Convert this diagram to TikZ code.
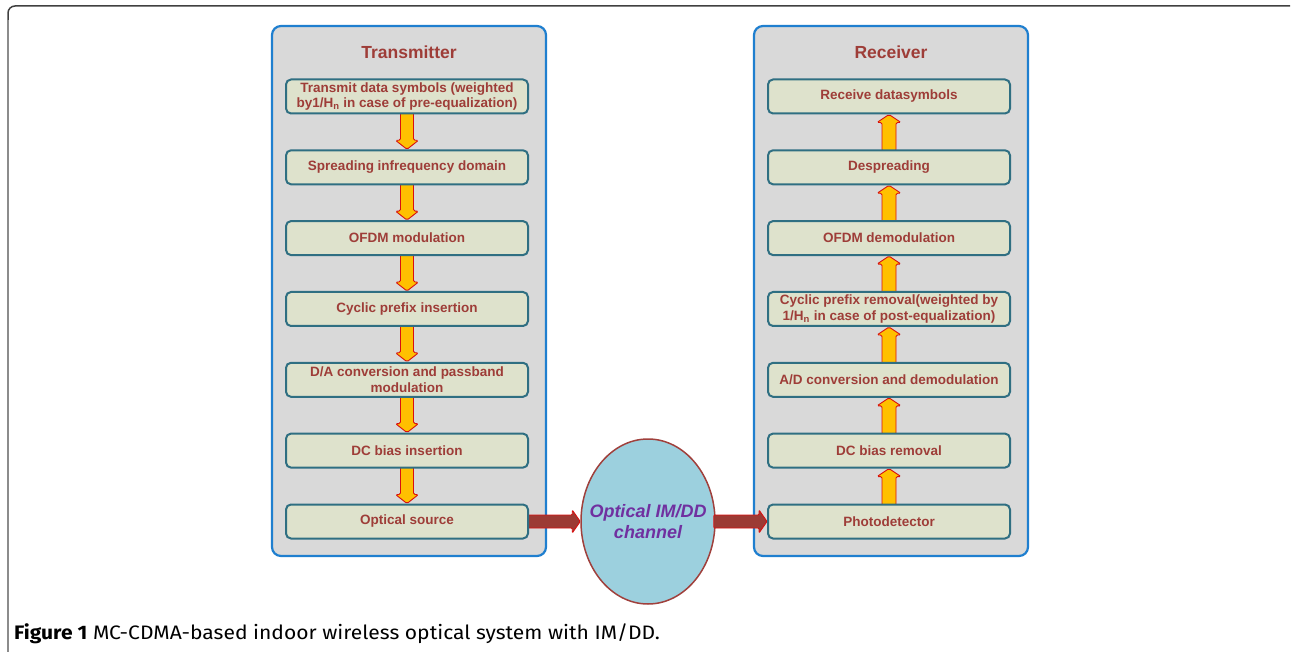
\documentclass[tikz,border=0pt]{standalone}
\usepackage{fontspec}
\setmainfont{Liberation Sans}
\newfontfamily\capfont{Fira Sans}
\usetikzlibrary{calc,shapes.geometric}
\definecolor{panelblue}{HTML}{1F7FCF}
\definecolor{panelgray}{HTML}{D9D9D9}
\definecolor{boxfill}{HTML}{DEE2CC}
\definecolor{boxedge}{HTML}{2F6F82}
\definecolor{txtred}{HTML}{9E3D38}
\definecolor{yel}{HTML}{FFC000}
\definecolor{arrred}{HTML}{D81010}
\definecolor{chanfill}{HTML}{9CD0DE}
\definecolor{chanedge}{HTML}{A0403C}
\definecolor{chantext}{HTML}{7030A0}
\definecolor{brownarr}{HTML}{9C3A34}
\pgfdeclarelayer{bg}
\pgfdeclarelayer{arrows}
\pgfsetlayers{bg,arrows,main}
\newcommand\fatdown[2]{%
  \draw[yarr] ($(#1.south)+(-6.5,-2)$) -- ($(#2.north)+(-6.5,-9)$) -- ($(#2.north)+(-11.5,-9)$) -- (#2.north) -- ($(#2.north)+(11.5,-9)$) -- ($(#2.north)+(6.5,-9)$) -- ($(#1.south)+(6.5,-2)$) -- cycle;}
\newcommand\fatup[2]{%
  \draw[yarr] ($(#1.north)+(-7,2)$) -- ($(#2.south)+(-7,8)$) -- ($(#2.south)+(-12,8)$) -- (#2.south) -- ($(#2.south)+(12,8)$) -- ($(#2.south)+(7,8)$) -- ($(#1.north)+(7,2)$) -- cycle;}
\newcommand\fatright[2]{%
  \draw[barr] ($(#1.east)+(-2,-6.5)$) -- ($(#2.west)+(-8,-6.5)$) -- ($(#2.west)+(-8,-11.5)$) -- (#2.west) -- ($(#2.west)+(-8,11.5)$) -- ($(#2.west)+(-8,6.5)$) -- ($(#1.east)+(-2,6.5)$) -- cycle;}
\begin{document}
\begin{tikzpicture}[x=1pt,y=-1pt,
  panel/.style={draw=panelblue, line width=2.2pt, fill=panelgray, rounded corners=9pt, minimum width=274pt, minimum height=530pt, inner sep=0pt},
  stepbox/.style={draw=boxedge, line width=2pt, fill=boxfill, rounded corners=5pt, minimum width=242pt, minimum height=34pt, inner sep=0pt, text=txtred, font=\fontsize{13.5}{15.5}\selectfont\bfseries, align=center},
  title/.style={text=txtred, font=\fontsize{17.5}{20}\selectfont\bfseries},
  yarr/.style={draw=arrred, fill=yel, line width=0.9pt, rounded corners=1.5pt},
  barr/.style={draw=arrred, fill=brownarr, line width=0.9pt, rounded corners=1pt},
]
\useasboundingbox (0,0) rectangle (1291,652);
% outer frame
\draw[line width=1.5pt, draw=black!75, rounded corners=7pt] (8,652) -- (8,6) -- (1290,6);
\draw[line width=1.5pt, draw=black!45] (8,20) -- (8,652);

\begin{pgfonlayer}{bg}
\node[panel] (tx) at (409,291) {};
\node[panel] (rx) at (891,291) {};
\end{pgfonlayer}

\node[title] (txt) at (409,52) {Transmitter};
\node[title] (rxt) at (891,52) {Receiver};

\node[stepbox] (t1) at (407,96.5) {Transmit data symbols (weighted\\by1/H\textsubscript{n} in case of pre-equalization)};
\node[stepbox] (t2) at (407,167.3) {Spreading infrequency domain};
\node[stepbox] (t3) at (407,238.1) {OFDM modulation};
\node[stepbox] (t4) at (407,309) {Cyclic prefix insertion};
\node[stepbox] (t5) at (407,379.8) {D/A conversion and passband\\modulation};
\node[stepbox] (t6) at (407,450.6) {DC bias insertion};
\node[stepbox] (t7) at (407,521.5) {Optical source};

\node[stepbox] (r1) at (889,96.5) {Receive datasymbols};
\node[stepbox] (r2) at (889,167.3) {Despreading};
\node[stepbox] (r3) at (889,238.1) {OFDM demodulation};
\node[stepbox] (r4) at (889,309) {Cyclic prefix removal(weighted by\\1/H\textsubscript{n} in case of post-equalization)};
\node[stepbox] (r5) at (889,379.8) {A/D conversion and demodulation};
\node[stepbox] (r6) at (889,450.6) {DC bias removal};
\node[stepbox] (r7) at (889,521.5) {Photodetector};

\node[ellipse, draw=chanedge, line width=1.5pt, fill=chanfill, minimum width=134pt, minimum height=165pt, inner sep=0pt] (ch) at (648,521.5) {};
\node[text=chantext, font=\fontsize{18}{21}\selectfont\bfseries\itshape, align=center, inner sep=0pt] (chtxt) at (ch.center) {Optical IM/DD\\channel};

\begin{pgfonlayer}{arrows}
\fatdown{t1}{t2}
\fatdown{t2}{t3}
\fatdown{t3}{t4}
\fatdown{t4}{t5}
\fatdown{t5}{t6}
\fatdown{t6}{t7}
\fatup{r7}{r6}
\fatup{r6}{r5}
\fatup{r5}{r4}
\fatup{r4}{r3}
\fatup{r3}{r2}
\fatup{r2}{r1}
\fatright{t7}{ch}
\end{pgfonlayer}
\fatright{ch}{r7}

\node[anchor=base west, inner sep=0pt, font=\capfont\fontsize{19.5}{21}\selectfont] (cap) at (14,639) {\scalebox{1.08}[1]{\textbf{Figure 1} MC-CDMA-based indoor wireless optical system with IM/DD.}};
\end{tikzpicture}
\end{document}
